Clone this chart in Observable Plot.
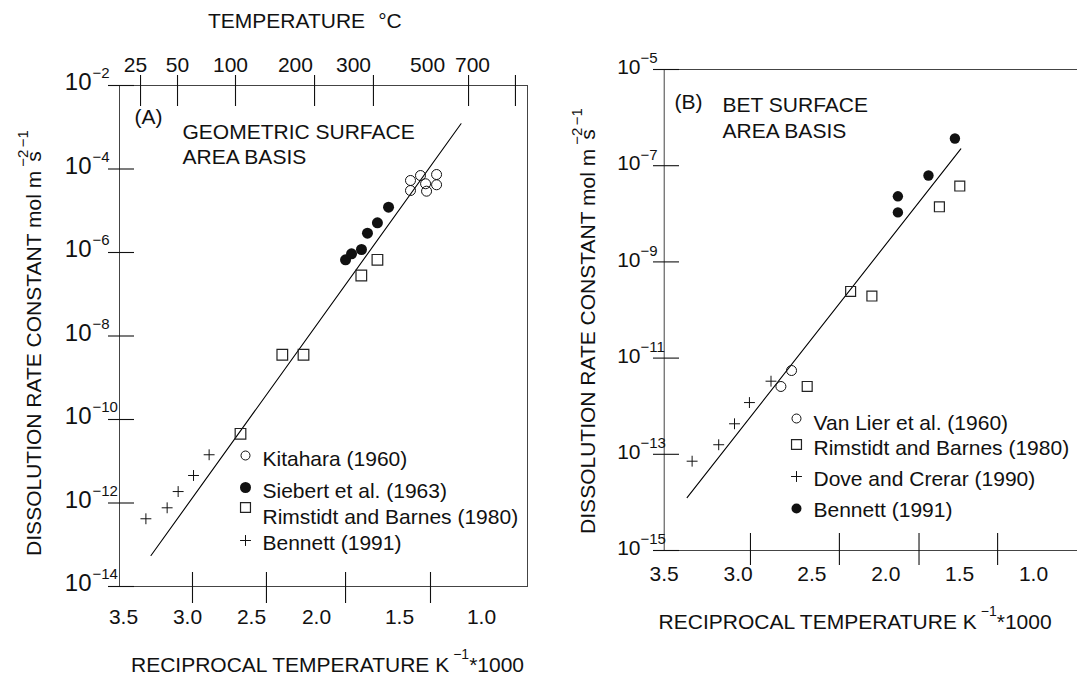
<!DOCTYPE html>
<html>
<head>
<meta charset="utf-8">
<script src="https://cdn.jsdelivr.net/npm/d3@7"></script>
<script src="https://cdn.jsdelivr.net/npm/@observablehq/plot@0.6"></script>
<style>
  html, body { margin: 0; padding: 0; background: #fff; overflow: hidden; }
  #wrap { position: relative; width: 1077px; height: 679px; overflow: hidden; background: #fff; }
  #wrap svg { position: absolute; top: 0; max-width: none !important; }
</style>
</head>
<body>
<div id="wrap"></div>
<script>
// ================= DATA =================
// x = reciprocal temperature (1000/T, K^-1), k = dissolution rate constant (mol m^-2 s^-1)

// Panel A — geometric surface area basis
const kitaharaA_x = [1.433, 1.433, 1.372, 1.341, 1.335, 1.274, 1.274];
const kitaharaA_k = [5.31e-5, 3.05e-5, 6.98e-5, 4.43e-5, 2.94e-5, 7.38e-5, 4.19e-5];
const siebertA_x  = [1.825, 1.789, 1.729, 1.693, 1.633, 1.566];
const siebertA_k  = [6.68e-7, 9.31e-7, 1.18e-6, 2.90e-6, 5.14e-6, 1.22e-5];
const rimstidtA_x = [2.586, 2.263, 2.100, 1.730, 1.633];
const rimstidtA_k = [4.54e-11, 3.55e-9, 3.55e-9, 2.81e-7, 6.68e-7];
const bennettA_x  = [2.831, 2.953, 3.073, 3.159, 3.325];
const bennettA_k  = [1.43e-11, 4.56e-12, 1.88e-12, 7.67e-13, 4.19e-13];
const fitA_x = [3.285, 1.125];
const fitA_k = [5.53e-14, 1.21e-3];

// Panel B — BET surface area basis
const vanLierB_x  = [2.638, 2.710];
const vanLierB_k  = [5.52e-12, 2.57e-12];
const rimstidtB_x = [2.532, 2.238, 2.094, 1.637, 1.499];
const rimstidtB_k = [2.57e-12, 2.43e-10, 1.95e-10, 1.40e-8, 3.78e-8];
const doveB_x     = [3.311, 3.131, 3.024, 2.923, 2.777];
const doveB_k     = [7.19e-14, 1.58e-13, 4.31e-13, 1.19e-12, 3.31e-12];
const bennettB_x  = [1.532, 1.711, 1.918, 1.918];
const bennettB_k  = [3.68e-7, 6.25e-8, 2.31e-8, 1.07e-8];
const fitB_x = [3.345, 1.492];
const fitB_k = [1.26e-14, 2.24e-7];

// Axis ticks and labels
const recipLabels   = [3.5, 3.0, 2.5, 2.0, 1.5, 1.0];
const bottomTicksA  = [2.961, 2.385, 1.825, 1.311];
const bottomTicksB  = [2.916, 2.314, 1.775, 1.243];
const tempTicksA    = [3.367, 3.078, 2.625, 2.015, 1.657, 1.079, 0.793];
const tempLabelPosA = [3.406, 3.078, 2.664, 2.162, 1.777, 1.329, 1.055];
const tempLabelsA   = ["25", "50", "100", "200", "300", "500", "700"];
const yTicksA = [1e-2, 1e-4, 1e-6, 1e-8, 1e-10, 1e-12, 1e-14];
const yTicksB = [1e-5, 1e-7, 1e-9, 1e-11, 1e-13, 1e-15];

const legendA = ["Kitahara (1960)", "Siebert et al. (1963)", "Rimstidt and Barnes (1980)", "Bennett (1991)"];
const legendB = ["Van Lier et al. (1960)", "Rimstidt and Barnes (1980)", "Dove and Crerar (1990)", "Bennett (1991)"];

// ================= HELPERS =================
const FONT = "'Liberation Sans', Arial, Helvetica, sans-serif";
const INK = "#111";
const rows = (xs, ks) => xs.map((x, i) => ({x, k: ks[i]}));
const expLabel = d => "\u2212" + Math.round(-Math.log10(d));

const sym = {
  openCircle:   {symbol: "circle", r: 5,   fill: "none", stroke: INK, strokeWidth: 1},
  filledCircle: {symbol: "circle", r: 5.5, fill: INK, stroke: "none"},
  openSquare:   {symbol: "square", r: 6,   fill: "none", stroke: "#222", strokeWidth: 1.2},
  plus:         {symbol: "plus",   r: 3.6, fill: "none", stroke: INK, strokeWidth: 1}
};

function richText({x, y, rotate = 0, anchor = "start", parts}) {
  return () => {
    const t = d3.create("svg:text")
      .attr("transform", `translate(${x},${y})` + (rotate ? ` rotate(${rotate})` : ""))
      .attr("text-anchor", anchor)
      .attr("font-family", FONT)
      .attr("font-size", 21)
      .attr("fill", INK);
    for (const p of parts) {
      const s = t.append("tspan").text(p.text);
      if (p.dx) s.attr("dx", p.dx);
      if (p.dy) s.attr("dy", p.dy);
      if (p.size) s.attr("font-size", p.size);
    }
    return t.node();
  };
}

function legendMarks(labels, styles, symDx, symDy, txtDx, txtDy) {
  const out = [];
  labels.forEach((lab, i) => {
    out.push(Plot.dot([lab], {x: null, y: null, frameAnchor: "top-left", dx: symDx, dy: symDy[i], ...styles[i]}));
    out.push(Plot.text([lab], {x: null, y: null, frameAnchor: "top-left", dx: txtDx, dy: txtDy[i],
      textAnchor: "start", lineAnchor: "middle", text: d => d, fontSize: 21, fill: INK}));
  });
  return out;
}

function panelText(str, dx, dy) {
  return Plot.text([str], {x: null, y: null, frameAnchor: "top-left", dx, dy,
    textAnchor: "start", lineAnchor: "middle", text: d => d, fontSize: 21, fill: INK});
}

const xTitleParts = [
  {text: "RECIPROCAL TEMPERATURE K"},
  {text: "\u22121", dx: 4, dy: -13, size: 14},
  {text: "*1000", dy: 13}
];
const yTitleParts = [
  {text: "DISSOLUTION RATE CONSTANT mol m"}, {text: "\u22122", dx: 4, dy: -13, size: 15},
  {text: "s", dx: -12, dy: 13}, {text: "\u22121", dx: 4, dy: -13, size: 15}
];

const H = 679;
const wrap = document.getElementById("wrap");

// ================= PANEL A =================
{
  const W = 540;
  const m = {top: 85, right: 13, bottom: 93, left: 119};
  const fw = W - m.left - m.right, fh = H - m.top - m.bottom;
  const recipRangeA = [123, 187, 251, 316, 399, 481]; // drawn axis is uneven in the original

  const svg = Plot.plot({
    width: W, height: H,
    marginTop: m.top, marginRight: m.right, marginBottom: m.bottom, marginLeft: m.left,
    style: {fontFamily: FONT, background: "transparent", color: INK, overflow: "visible"},
    x: {type: "linear", domain: recipLabels, range: recipRangeA, axis: null},
    y: {type: "log", domain: [1e-14, 1e-2], axis: null},
    marks: [
      Plot.frame({stroke: "#444", strokeWidth: 1}),
      Plot.ruleY(yTicksA, {y: d => d, stroke: INK, strokeWidth: 1.1, insetLeft: -11, insetRight: fw - 15}),
      Plot.ruleX(tempTicksA, {x: d => d, stroke: INK, strokeWidth: 1.1, insetTop: -10, insetBottom: fh - 21}),
      Plot.ruleX(bottomTicksA, {x: d => d, stroke: INK, strokeWidth: 1.1, insetTop: fh - 14, insetBottom: -17}),
      Plot.text(recipLabels, {x: d => d, frameAnchor: "bottom", dy: 37, text: d => d.toFixed(1), fontSize: 21, fill: INK}),
      Plot.text(tempLabelPosA, {x: d => d, frameAnchor: "top", dy: -28, text: (d, i) => tempLabelsA[i], fontSize: 21, fill: INK}),
      Plot.text(yTicksA, {y: d => d, frameAnchor: "left", dx: -28, dy: -3, textAnchor: "end", text: () => "10", fontSize: 24, fill: INK}),
      Plot.text(yTicksA, {y: d => d, frameAnchor: "left", dx: -27, dy: -12, textAnchor: "start", text: expLabel, fontSize: 15, fill: INK}),
      Plot.line(rows(fitA_x, fitA_k), {x: "x", y: "k", stroke: "#000", strokeWidth: 1.1}),
      Plot.dot(rows(kitaharaA_x, kitaharaA_k), {x: "x", y: "k", ...sym.openCircle}),
      Plot.dot(rows(siebertA_x, siebertA_k), {x: "x", y: "k", ...sym.filledCircle}),
      Plot.dot(rows(rimstidtA_x, rimstidtA_k), {x: "x", y: "k", ...sym.openSquare}),
      Plot.dot(rows(bennettA_x, bennettA_k), {x: "x", y: "k", ...sym.plus}),
      panelText("(A)", 15, 32),
      panelText("GEOMETRIC SURFACE", 63, 47),
      panelText("AREA BASIS", 63, 72),
      ...legendMarks(legendA,
        [{...sym.openCircle, r: 4.5}, sym.filledCircle, {...sym.openSquare, r: 5.6}, sym.plus],
        126, [370, 402, 422, 455], 143, [374, 406, 432, 458]),
      richText({x: 208, y: 28, parts: [{text: "TEMPERATURE"}, {text: "\u00B0C", dx: 13}]}),
      richText({x: 131, y: 672, parts: xTitleParts}),
      richText({x: 41, y: 343, rotate: -90, anchor: "middle", parts: yTitleParts})
    ]
  });
  svg.style.left = "0px";
  wrap.appendChild(svg);
}

// ================= PANEL B =================
{
  const W = 560; // right edge runs past the window, as in the original
  const m = {top: 69, right: 0, bottom: 129, left: 123.7};
  const fw = W - m.left - m.right, fh = H - m.top - m.bottom;

  const svg = Plot.plot({
    width: W, height: H,
    marginTop: m.top, marginRight: m.right, marginBottom: m.bottom, marginLeft: m.left,
    style: {fontFamily: FONT, background: "transparent", color: INK, overflow: "visible"},
    x: {type: "linear", domain: [3.5, 1.0], range: [123.7, 493], axis: null},
    y: {type: "log", domain: [1e-15, 1e-5], axis: null},
    marks: [
      Plot.frame({stroke: "#444", strokeWidth: 1}),
      Plot.ruleY(yTicksB, {y: d => d, stroke: INK, strokeWidth: 1.1, insetLeft: -10.7, insetRight: fw - 15.3}),
      Plot.ruleX(bottomTicksB, {x: d => d, stroke: INK, strokeWidth: 1.1, insetTop: fh - 17, insetBottom: -15}),
      Plot.text(recipLabels, {x: d => d, frameAnchor: "bottom", dy: 30, text: d => d.toFixed(1), fontSize: 21, fill: INK}),
      Plot.text(yTicksB, {y: d => d, frameAnchor: "left", dx: -23.7, dy: -2, textAnchor: "end", text: () => "10", fontSize: 21, fill: INK}),
      Plot.text(yTicksB, {y: d => d, frameAnchor: "left", dx: -23.7, dy: -11, textAnchor: "start", text: expLabel, fontSize: 15, fill: INK}),
      Plot.line(rows(fitB_x, fitB_k), {x: "x", y: "k", stroke: "#000", strokeWidth: 1.1}),
      Plot.dot(rows(vanLierB_x, vanLierB_k), {x: "x", y: "k", ...sym.openCircle}),
      Plot.dot(rows(rimstidtB_x, rimstidtB_k), {x: "x", y: "k", ...sym.openSquare, r: 5.6}),
      Plot.dot(rows(doveB_x, doveB_k), {x: "x", y: "k", ...sym.plus}),
      Plot.dot(rows(bennettB_x, bennettB_k), {x: "x", y: "k", ...sym.filledCircle, r: 5.2}),
      panelText("(B)", 10.3, 33),
      panelText("BET SURFACE", 58.3, 36),
      panelText("AREA BASIS", 58.3, 62),
      ...legendMarks(legendB,
        [{...sym.openCircle, r: 4.5}, {...sym.openSquare, r: 5.6}, sym.plus, {...sym.filledCircle, r: 5}],
        132.3, [349, 375, 407, 439], 149.3, [354, 379, 410, 441]),
      richText({x: 118.6, y: 629, parts: xTitleParts}),
      richText({x: 55, y: 321, rotate: -90, anchor: "middle", parts: yTitleParts})
    ]
  });
  svg.style.left = "540px";
  wrap.appendChild(svg);
}
</script>
</body>
</html>
